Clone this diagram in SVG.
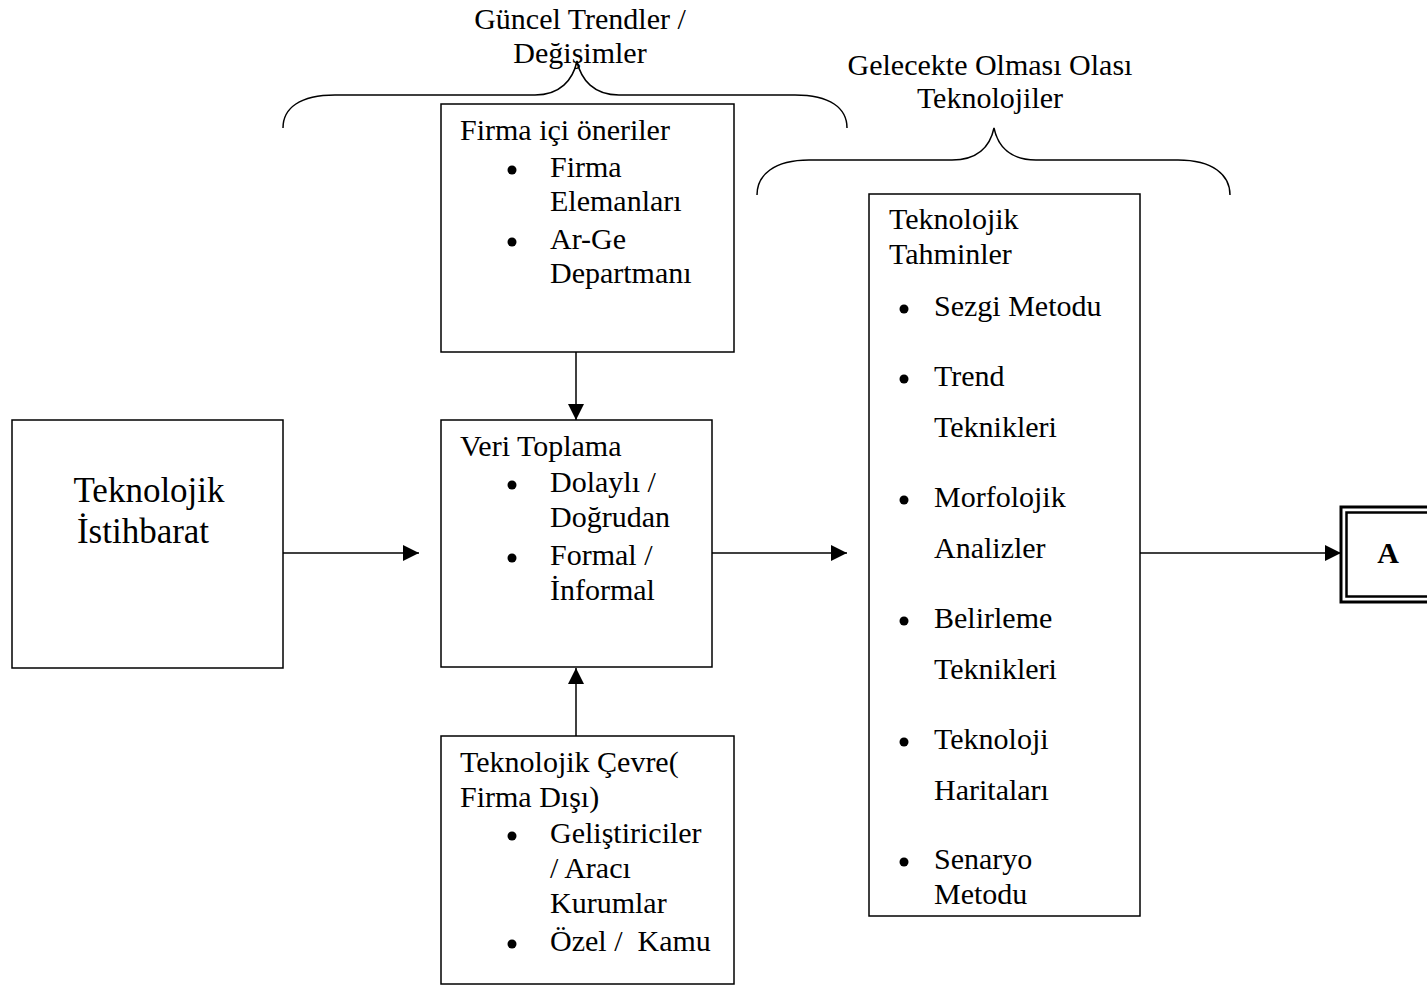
<svg xmlns="http://www.w3.org/2000/svg" width="1427" height="985" viewBox="0 0 1427 985">
  <style>
    .box { fill: #fff; stroke: #000; stroke-width: 1.5; }
    .t { font-family: "Liberation Serif", "Times New Roman", serif; font-size: 30px; fill: #000; }
    .big { font-size: 35px; }
    .edge { stroke: #000; stroke-width: 1.5; fill: none; }
    .brace { stroke: #000; stroke-width: 1.5; fill: none; }
  </style>
  <defs>
    <marker id="arrow" viewBox="0 0 10 10" refX="10" refY="5" markerWidth="16" markerHeight="16" markerUnits="userSpaceOnUse" orient="auto">
      <path d="M0,0 L10,5 L0,10 Z" fill="#000"/>
    </marker>
  </defs>

  <!-- Curly braces with captions -->
  <g id="brace-trends">
    <path class="brace" d="M283,128 C283,108 300,95 335,95 L535,95 C560,95 573,80 577,61 C581,80 594,95 619,95 L795,95 C830,95 847,108 847,128"/>
    <text class="t" x="580" y="29" text-anchor="middle">Güncel Trendler /</text>
    <text class="t" x="580" y="63" text-anchor="middle">Değişimler</text>
  </g>
  <g id="brace-future">
    <path class="brace" d="M757,195 C757,175 774,160 809,160 L952,160 C977,160 990,147 994,128 C998,147 1011,160 1036,160 L1178,160 C1213,160 1230,175 1230,195"/>
    <text class="t" x="990" y="75" text-anchor="middle">Gelecekte Olması Olası</text>
    <text class="t" x="990" y="108" text-anchor="middle">Teknolojiler</text>
  </g>

  <!-- Nodes -->
  <g id="istihbarat">
    <rect class="box" x="12" y="420" width="271" height="248"/>
    <text class="t big" x="149" y="502" text-anchor="middle">Teknolojik</text>
    <text class="t big" x="143" y="543" text-anchor="middle">İstihbarat</text>
  </g>

  <g id="firma-ici">
    <rect class="box" x="441" y="104" width="293" height="248"/>
    <text class="t" x="460" y="140">Firma içi öneriler</text>
    <circle cx="512" cy="170" r="4.5"/>
    <text class="t" x="550" y="177">Firma</text>
    <text class="t" x="550" y="211">Elemanları</text>
    <circle cx="512" cy="242" r="4.5"/>
    <text class="t" x="550" y="249">Ar-Ge</text>
    <text class="t" x="550" y="283">Departmanı</text>
  </g>

  <g id="veri-toplama">
    <rect class="box" x="441" y="420" width="271" height="247"/>
    <text class="t" x="460" y="456">Veri Toplama</text>
    <circle cx="512" cy="485" r="4.5"/>
    <text class="t" x="550" y="492">Dolaylı /</text>
    <text class="t" x="550" y="527">Doğrudan</text>
    <circle cx="512" cy="558" r="4.5"/>
    <text class="t" x="550" y="565">Formal /</text>
    <text class="t" x="550" y="600">İnformal</text>
  </g>

  <g id="cevre">
    <rect class="box" x="441" y="736" width="293" height="248"/>
    <text class="t" x="460" y="772">Teknolojik Çevre(</text>
    <text class="t" x="460" y="807">Firma Dışı)</text>
    <circle cx="512" cy="836" r="4.5"/>
    <text class="t" x="550" y="843">Geliştiriciler</text>
    <text class="t" x="550" y="878">/ Aracı</text>
    <text class="t" x="550" y="913">Kurumlar</text>
    <circle cx="512" cy="944" r="4.5"/>
    <text class="t" x="550" y="951" xml:space="preserve">Özel /  Kamu</text>
  </g>

  <g id="tahminler">
    <rect class="box" x="869" y="194" width="271" height="722"/>
    <text class="t" x="889" y="229">Teknolojik</text>
    <text class="t" x="889" y="264">Tahminler</text>
    <circle cx="904" cy="309" r="4.5"/>
    <text class="t" x="934" y="316">Sezgi Metodu</text>
    <circle cx="904" cy="379" r="4.5"/>
    <text class="t" x="934" y="386">Trend</text>
    <text class="t" x="934" y="437">Teknikleri</text>
    <circle cx="904" cy="500" r="4.5"/>
    <text class="t" x="934" y="507">Morfolojik</text>
    <text class="t" x="934" y="558">Analizler</text>
    <circle cx="904" cy="621" r="4.5"/>
    <text class="t" x="934" y="628">Belirleme</text>
    <text class="t" x="934" y="679">Teknikleri</text>
    <circle cx="904" cy="742" r="4.5"/>
    <text class="t" x="934" y="749">Teknoloji</text>
    <text class="t" x="934" y="800">Haritaları</text>
    <circle cx="904" cy="862" r="4.5"/>
    <text class="t" x="934" y="869">Senaryo</text>
    <text class="t" x="934" y="904">Metodu</text>
  </g>

  <g id="node-a">
    <rect x="1341" y="507" width="100" height="95" fill="#fff" stroke="#000" stroke-width="3"/>
    <rect x="1346.5" y="512.5" width="100" height="84" fill="none" stroke="#000" stroke-width="2.5"/>
    <text class="t" x="1388" y="563" text-anchor="middle" font-weight="bold" font-size="34">A</text>
  </g>

  <!-- Connectors -->
  <g id="connectors">
    <line class="edge" x1="576" y1="352" x2="576" y2="420" marker-end="url(#arrow)"/>
    <line class="edge" x1="576" y1="736" x2="576" y2="668" marker-end="url(#arrow)"/>
    <line class="edge" x1="283" y1="553" x2="419" y2="553" marker-end="url(#arrow)"/>
    <line class="edge" x1="712" y1="553" x2="847" y2="553" marker-end="url(#arrow)"/>
    <line class="edge" x1="1140" y1="553" x2="1341" y2="553" marker-end="url(#arrow)"/>
  </g>
</svg>
